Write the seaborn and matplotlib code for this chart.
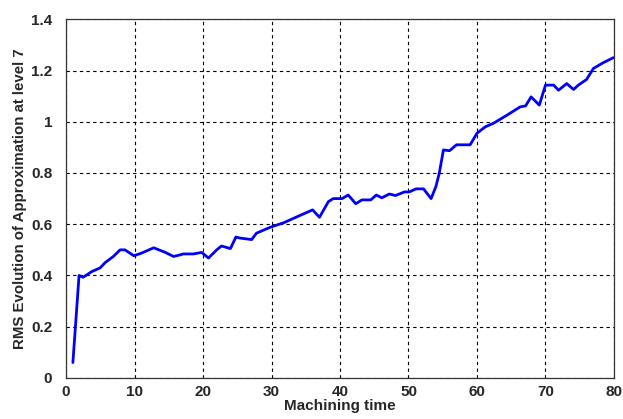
import matplotlib
matplotlib.use("Agg")
import matplotlib.pyplot as plt
import seaborn as sns
import pandas as pd

# Machining time samples and RMS of the level-7 approximation
time = [1, 1.9, 2.5, 3.75, 5, 5.7, 6.9, 7.9, 8.6, 9.9, 11, 12.8, 14.5, 15.7,
        16.6, 17.1, 18.6, 19.8, 20.8, 22, 22.7, 24, 24.8, 25.4, 27.1, 27.8,
        29.8, 31.8, 33.8, 36, 37, 38.3, 39, 40.3, 41.2, 42.3, 43.2, 44.5,
        45.3, 46.1, 47.2, 48.1, 49.4, 50.1, 51.1, 52.2, 53.3, 54.0, 54.5,
        55.1, 56.0, 57, 59, 60, 61.2, 62.4, 64.4, 66.3, 67.1, 67.9, 69.1,
        70, 71.2, 71.9, 73.1, 74.1, 74.8, 76, 77, 78.4, 79.9]
rms = [0.06, 0.40, 0.393, 0.415, 0.43, 0.45, 0.474, 0.50, 0.50, 0.477,
       0.487, 0.508, 0.49, 0.474, 0.48, 0.484, 0.484, 0.49, 0.468, 0.50,
       0.515, 0.505, 0.55, 0.546, 0.54, 0.565, 0.588, 0.606, 0.63, 0.656,
       0.627, 0.688, 0.70, 0.70, 0.714, 0.68, 0.695, 0.695, 0.714, 0.703,
       0.718, 0.712, 0.726, 0.726, 0.738, 0.738, 0.70, 0.747, 0.80, 0.89,
       0.887, 0.91, 0.91, 0.955, 0.98, 0.994, 1.026, 1.058, 1.062, 1.097,
       1.065, 1.143, 1.143, 1.123, 1.149, 1.126, 1.143, 1.165, 1.208, 1.23,
       1.25]

x_ticks = [0, 10, 20, 30, 40, 50, 60, 70, 80]
y_ticks = [0, 0.2, 0.4, 0.6, 0.8, 1, 1.2, 1.4]
y_tick_labels = ["0", "0.2", "0.4", "0.6", "0.8", "1", "1.2", "1.4"]

sns.set_theme(style="white")
plt.rcParams["font.family"] = ["Liberation Sans", "DejaVu Sans"]

df = pd.DataFrame({"time": time, "rms": rms})

fig = plt.figure(figsize=(6.23, 4.19), dpi=100)
ax = fig.add_axes([0.106, 0.098, 0.8795, 0.856])

sns.lineplot(data=df, x="time", y="rms", ax=ax, color="#0000ff",
             linewidth=2.0, sort=False)

ax.set_xlim(0, 80)
ax.set_ylim(0, 1.4)
ax.set_xticks(x_ticks)
ax.set_yticks(y_ticks)
ax.set_yticklabels(y_tick_labels)

ax.grid(True, color="black", linestyle=(0, (3, 3)), linewidth=0.8)
ax.tick_params(direction="in", length=4, width=0.8, color="black",
               labelsize=11)
ax.tick_params(axis="y", pad=10)
ax.tick_params(axis="x", pad=5)
for lbl in ax.get_xticklabels() + ax.get_yticklabels():
    lbl.set_fontweight("bold")
for spine in ax.spines.values():
    spine.set_color("#333333")
    spine.set_linewidth(0.9)

ax.set_xlabel("Machining time", fontsize=11, fontweight="bold", labelpad=0)
ax.set_ylabel("RMS Evolution of Approximation at level 7", fontsize=10.8,
              fontweight="bold", labelpad=3)

fig.savefig("out.png", dpi=100, facecolor="white")
